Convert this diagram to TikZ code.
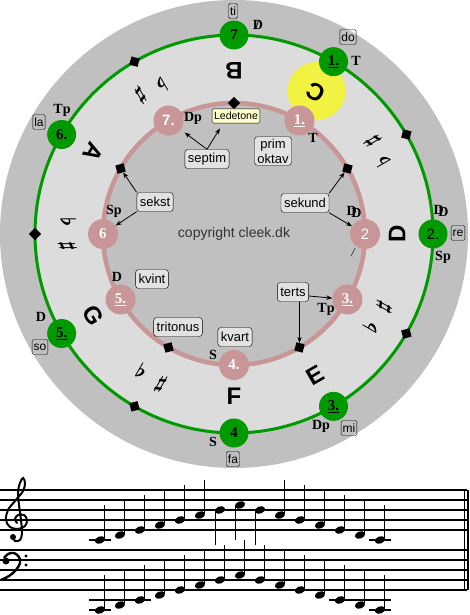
\documentclass[tikz,border=0pt]{standalone}
\usepackage{fontspec}
\setmainfont{Liberation Serif}
\setsansfont{Liberation Sans}
\usetikzlibrary{positioning, arrows.meta, calc}

\definecolor{dgray}{HTML}{C0C0C0}
\definecolor{lgray}{HTML}{DCDCDC}
\definecolor{boxgray}{HTML}{E2E2E2}
\definecolor{grn}{HTML}{009900}
\definecolor{pnk}{HTML}{C89696}
\definecolor{ylw}{HTML}{F2F242}
\definecolor{ledyel}{HTML}{FFFFCC}

\newcommand{\DDsym}{D\kern-5.5pt\raisebox{-2.5pt}{D}}
\newcommand{\Dstrike}{\rlap{D}\kern2.5pt/\kern2pt}

\begin{document}
\begin{tikzpicture}[x=1pt, y=1pt,
    gnum/.style={circle, fill=grn, minimum size=29pt, inner sep=0pt, font=\bfseries\fontsize{15}{15}\selectfont},
    pnum/.style={circle, fill=pnk, minimum size=30pt, inner sep=0pt, text=white, font=\bfseries\fontsize{15}{15}\selectfont},
    dia/.style={fill=black, minimum size=8.5pt, inner sep=0pt},
    solbox/.style={draw, rounded corners=1.5pt, inner sep=1.5pt, minimum height=15pt, font=\sffamily\fontsize{12}{12}\selectfont},
    ivbox/.style={draw, fill=boxgray, rounded corners=3pt, inner xsep=3pt, minimum height=19pt, font=\sffamily\fontsize{13}{15}\selectfont},
    func/.style={font=\bfseries\fontsize{14}{14}\selectfont},
    bigl/.style={font=\sffamily\bfseries\fontsize{24}{24}\selectfont},
    acc/.style={font=\boldmath\fontsize{20}{20}\selectfont},
    arr/.style={-{Stealth[length=6pt, width=4.5pt]}, line width=0.8pt}]

    \useasboundingbox (-234,-381) rectangle (235,234);

    % the wheel
    \fill[dgray] (0,0) circle (234);
    \fill[lgray] (0,0) circle (199);
    \fill[dgray] (0,0) circle (131);
    \fill[ylw] (60:165) circle (29);
    \draw[grn, line width=3pt] (0,0) circle (199);
    \draw[pnk, line width=4.5pt] (0,0) circle (131);

    % outer ring (green)
    \node[gnum] (g7) at (90:199) {7};
    \node[gnum] (g1) at (60:199) {\underline{1.}};
    \node[gnum, font=\sffamily\fontsize{15}{15}\selectfont] (g2) at (0:199) {2.};
    \node[gnum] (g3) at (300:199) {\underline{3.}};
    \node[gnum] (g4) at (270:199) {4};
    \node[gnum] (g5) at (210:199) {\underline{5.}};
    \node[gnum] (g6) at (150:199) {6.};
    \node[dia, rotate=75] (gd30) at (30:199) {};
    \node[dia, rotate=165] (gd120) at (120:199) {};
    \node[dia, rotate=225] (gd180) at (180:199) {};
    \node[dia, rotate=285] (gd240) at (240:199) {};
    \node[dia, rotate=375] (gd330) at (330:199) {};

    % inner ring (pink)
    \node[pnum] (p1) at (60:131) {\underline{1.}};
    \node[pnum, font=\sffamily\bfseries\fontsize{15}{15}\selectfont] (p7) at (120:131) {7.};
    \node[pnum] (p6) at (180:131) {6};
    \node[pnum] (p5) at (210:131) {\underline{5.}};
    \node[pnum] (p4) at (270:131) {4.};
    \node[pnum] (p3) at (330:131) {\underline{3.}};
    \node[pnum, font=\sffamily\fontsize{15}{15}\selectfont] (p2) at (0:131) {2};
    \node[dia, rotate=75] (pd30) at (30:131) {};
    \node[dia, rotate=135] (pd90) at (90:131) {};
    \node[dia, rotate=195] (pd150) at (150:131) {};
    \node[dia, rotate=285] (pd240) at (240:131) {};
    \node[dia, rotate=345] (pd300) at (300:131) {};

    % tone names
    \node[bigl, rotate=150] (lc) at (60:164) {C};
    \node[bigl, rotate=90] (ld) at (0:163) {D};
    \node[bigl, rotate=30] (le) at (300:163) {E};
    \node[bigl] (lf) at (270:162) {F};
    \node[bigl, rotate=-60] (lg) at (210:163) {G};
    \node[bigl, rotate=-120] (la) at (150:163) {A};
    \node[bigl, rotate=180] (lb) at (90:163) {B};

    % sharps and flats
    \node[acc, rotate=120] (fl30) at (26:165) {$\flat$};
    \node[acc, rotate=120] (sh30) at (34:167) {$\sharp$};
    \node[acc, rotate=210] (fl120) at (116:165) {$\flat$};
    \node[acc, rotate=210] (sh120) at (124:167) {$\sharp$};
    \node[acc, rotate=270] (fl180) at (176:166) {$\flat$};
    \node[acc, rotate=270] (sh180) at (184:167) {$\sharp$};
    \node[acc, rotate=330] (fl240) at (236:165) {$\flat$};
    \node[acc, rotate=330] (sh240) at (244:167) {$\sharp$};
    \node[acc, rotate=60] (fl330) at (326:165) {$\flat$};
    \node[acc, rotate=60] (sh330) at (334:167) {$\sharp$};

    % solfege
    \node[solbox] (ti) at (-1,223) {ti};
    \node[solbox] (do) at (114,197) {do};
    \node[solbox] (re) at (224,1) {re};
    \node[solbox] (mi) at (115,-194) {mi};
    \node[solbox] (fa) at (-1,-225) {fa};
    \node[solbox] (so) at (-194,-113) {so};
    \node[solbox] (la) at (-195,112) {la};

    % functions
    \node[func] (fg7) at (23,209) {\Dstrike};
    \node[func] (fg1) at (122,173) {T};
    \node[func] (fg2a) at (207,23) {\DDsym};
    \node[func] (fg2b) at (209,-23) {Sp};
    \node[func] (fg3) at (87,-192) {Dp};
    \node[func] (fg4) at (-21,-208) {S};
    \node[func] (fg5) at (-193,-83) {D};
    \node[func] (fg6) at (-172,124) {Tp};
    \node[func] (fp1) at (79,96) {T};
    \node[func] (fp7) at (-41,116) {Dp};
    \node[func] (fp6) at (-120,23) {Sp};
    \node[func] (fp5) at (-117,-43) {D};
    \node[func] (fp4) at (-21,-121) {S};
    \node[func] (fp3) at (92,-75) {Tp};
    \node[func] (fp2) at (120,22) {\DDsym};
    \node[func, font=\itshape\fontsize{12}{12}\selectfont] (slash) at (119,-19) {/};

    % intervals
    \node[draw, fill=ledyel, rounded corners=1.5pt, inner xsep=2pt, minimum height=14pt, font=\sffamily\fontsize{10.5}{10.5}\selectfont] (lede) at (2,118) {Ledetone};
    \node[ivbox] (septim) at (-27,75) {septim};
    \node[ivbox, align=center, inner ysep=2pt] (prim) at (39,83) {prim\\oktav};
    \node[ivbox] (sekund) at (71,31) {sekund};
    \node[ivbox] (sekst) at (-79,32) {sekst};
    \node[ivbox] (kvint) at (-82,-45) {kvint};
    \node[ivbox] (triton) at (-56,-93) {tritonus};
    \node[ivbox] (kvart) at (1,-103) {kvart};
    \node[ivbox] (terts) at (59,-58) {terts};
    \node[font=\sffamily\fontsize{14}{14}\selectfont, text=black!80] (copy) at (0,0) {copyright cleek.dk};

    \draw[arr, shorten >=5pt] (septim.north) -- (p7);
    \draw[arr] (septim.north) -- ([xshift=-16pt, yshift=-5pt]lede.south);
    \draw[arr] (sekund.north east) -- (pd30);
    \draw[arr] (sekund.south east) -- (p2);
    \draw[arr] (sekst.north west) -- (pd150);
    \draw[arr] (sekst.south west) -- (p6);
    \draw[arr] ([yshift=-4pt]terts.east) -- (p3);
    \draw[arr] (terts.south -| pd300) -- (pd300);

    % staves
    \foreach \y in {-256,-266,-276,-286,-296,-316,-326,-336,-346,-356}
        \draw[line width=1.4pt] (-234,\y) -- (233,\y);
    \draw[line width=1.3pt] (230.5,-256) -- (230.5,-356);
    \draw[line width=2.6pt] (234,-256) -- (234,-356);

    % treble clef
    \begin{scope}[shift={(-216,-286)}]
        \draw[line width=2pt, line cap=round] plot[smooth, tension=0.6] coordinates {(-5,-17) (-3,-21) (2,-20) (4,-13) (3,0) (1,15) (0,28) (2,37) (5,42) (7,37) (5,29) (-3,19) (-10,10) (-12,0) (-8,-7) (0,-9) (7,-6) (9,0) (6,5) (0,5) (-3,1) (-1,-3)};
        \fill (-5,-17) circle (3);
    \end{scope}
    % bass clef
    \begin{scope}[shift={(-234,-326)}]
        \fill (6,-1) circle (3.5);
        \draw[line width=2.4pt] plot[smooth, tension=0.6] coordinates {(4,2) (8,6) (14,7) (19,3) (20,-3) (16,-10) (9,-16) (1,-20)};
        \fill (26,4) circle (1.7);
        \fill (26,-5) circle (1.7);
    \end{scope}

    % notes
    \foreach \s [count=\i from 0] in {0,1,2,3,4,5,6,7,6,5,4,3,2,1,0} {
        \begin{scope}[shift={(-134+20*\i,-306+5*\s)}]
            \fill[rotate=20] (0,0) ellipse (5.3 and 3.6);
            \ifnum\s<6
                \draw[line width=1pt] (4.6,1) -- (4.6,35);
            \else
                \draw[line width=1pt] (-4.6,-1) -- (-4.6,-35);
            \fi
        \end{scope}
        \begin{scope}[shift={(-134+20*\i,-376+5*\s)}]
            \fill[rotate=20] (0,0) ellipse (5.3 and 3.6);
            \draw[line width=1pt] (4.6,1) -- (4.6,35);
        \end{scope}
    }
    \draw[line width=1.3pt] (-145,-306) -- (-123,-306);
    \draw[line width=1.3pt] (135,-306) -- (157,-306);
    \draw[line width=1.3pt] (-145,-376) -- (-123,-376);
    \draw[line width=1.3pt] (135,-376) -- (157,-376);
    \foreach \x in {-134,-114,-94,106,126,146}
        \draw[line width=1.3pt] (\x-11,-366) -- (\x+11,-366);
\end{tikzpicture}
\end{document}
